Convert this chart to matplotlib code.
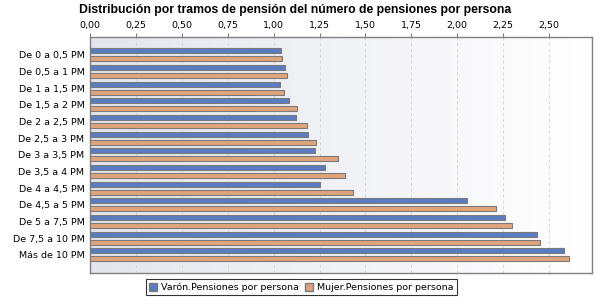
import numpy as np
import matplotlib
matplotlib.use("Agg")
import matplotlib.pyplot as plt
from matplotlib.patches import Patch
from matplotlib.colors import LinearSegmentedColormap

plt.rcParams["font.family"] = ["DejaVu Sans"]

tramos = ["De 0 a 0,5 PM", "De 0,5 a 1 PM", "De 1 a 1,5 PM", "De 1,5 a 2 PM",
          "De 2 a 2,5 PM", "De 2,5 a 3 PM", "De 3 a 3,5 PM", "De 3,5 a 4 PM",
          "De 4 a 4,5 PM", "De 4,5 a 5 PM", "De 5 a 7,5 PM", "De 7,5 a 10 PM",
          "Más de 10 PM"]
varon = [1.040, 1.062, 1.035, 1.084, 1.122, 1.187, 1.225, 1.279,
         1.252, 2.051, 2.258, 2.437, 2.584]
mujer = [1.046, 1.073, 1.057, 1.127, 1.181, 1.230, 1.350, 1.388,
         1.432, 2.209, 2.296, 2.451, 2.606]
xticks = [0, 0.25, 0.5, 0.75, 1.0, 1.25, 1.5, 1.75, 2.0, 2.25, 2.5]

c_varon = "#5b7cc0"
c_mujer = "#e0a47c"
edge = "#7a7a7a"

fig = plt.figure(figsize=(6, 3), dpi=100)
ax = fig.add_axes([0.15, 0.091, 0.837, 0.786])

xmax = 2.735
n = len(tramos)
ylim = (n - 1 + 1.07, -1.07)

# fondo degradado
grad = np.linspace(0, 1, 256).reshape(1, -1)
cmap = LinearSegmentedColormap.from_list("bg", ["#e4e6ed", "#ffffff"])
ax.imshow(grad, extent=[0, xmax, ylim[0], ylim[1]], aspect="auto",
          cmap=cmap, zorder=0)

y = np.arange(n)
h = 0.3
ax.barh(y - 0.24, varon, height=h, color=c_varon, edgecolor=edge,
        linewidth=0.8, zorder=3)
ax.barh(y + 0.24, mujer, height=h, color=c_mujer, edgecolor=edge,
        linewidth=0.8, zorder=3)

ax.set_xlim(0, xmax)
ax.set_ylim(*ylim)
ax.set_yticks(y)
ax.set_yticklabels(tramos, fontsize=6.8)
ax.set_xticks(xticks)
ax.set_xticklabels([f"{v:.2f}".replace(".", ",") for v in xticks], fontsize=6.8)
ax.xaxis.tick_top()
ax.tick_params(axis="x", length=3, color="#808080", pad=2)
ax.tick_params(axis="y", length=0, pad=4)
ax.grid(True, axis="x", linestyle=(0, (3, 3)), color="#d6d6d6", linewidth=0.7, zorder=1)
for s in ax.spines.values():
    s.set_color("#808080")
    s.set_linewidth(1.0)

fig.suptitle("Distribución por tramos de pensión del número de pensiones por persona",
             fontsize=8.8, fontweight="bold", family="Liberation Sans",
             y=0.985, x=0.492)

handles = [Patch(facecolor=c_varon, edgecolor=edge, label="Varón.Pensiones por persona"),
           Patch(facecolor=c_mujer, edgecolor=edge, label="Mujer.Pensiones por persona")]
leg = fig.legend(handles=handles, loc="center", bbox_to_anchor=(0.502, 0.043),
                 ncol=2, fontsize=6.8, frameon=True, fancybox=False,
                 handlelength=0.9, handleheight=0.9, handletextpad=0.4,
                 columnspacing=0.6, borderpad=0.35, borderaxespad=0)
leg.get_frame().set_edgecolor("black")
leg.get_frame().set_linewidth(0.8)

fig.savefig("out.png", dpi=100)
